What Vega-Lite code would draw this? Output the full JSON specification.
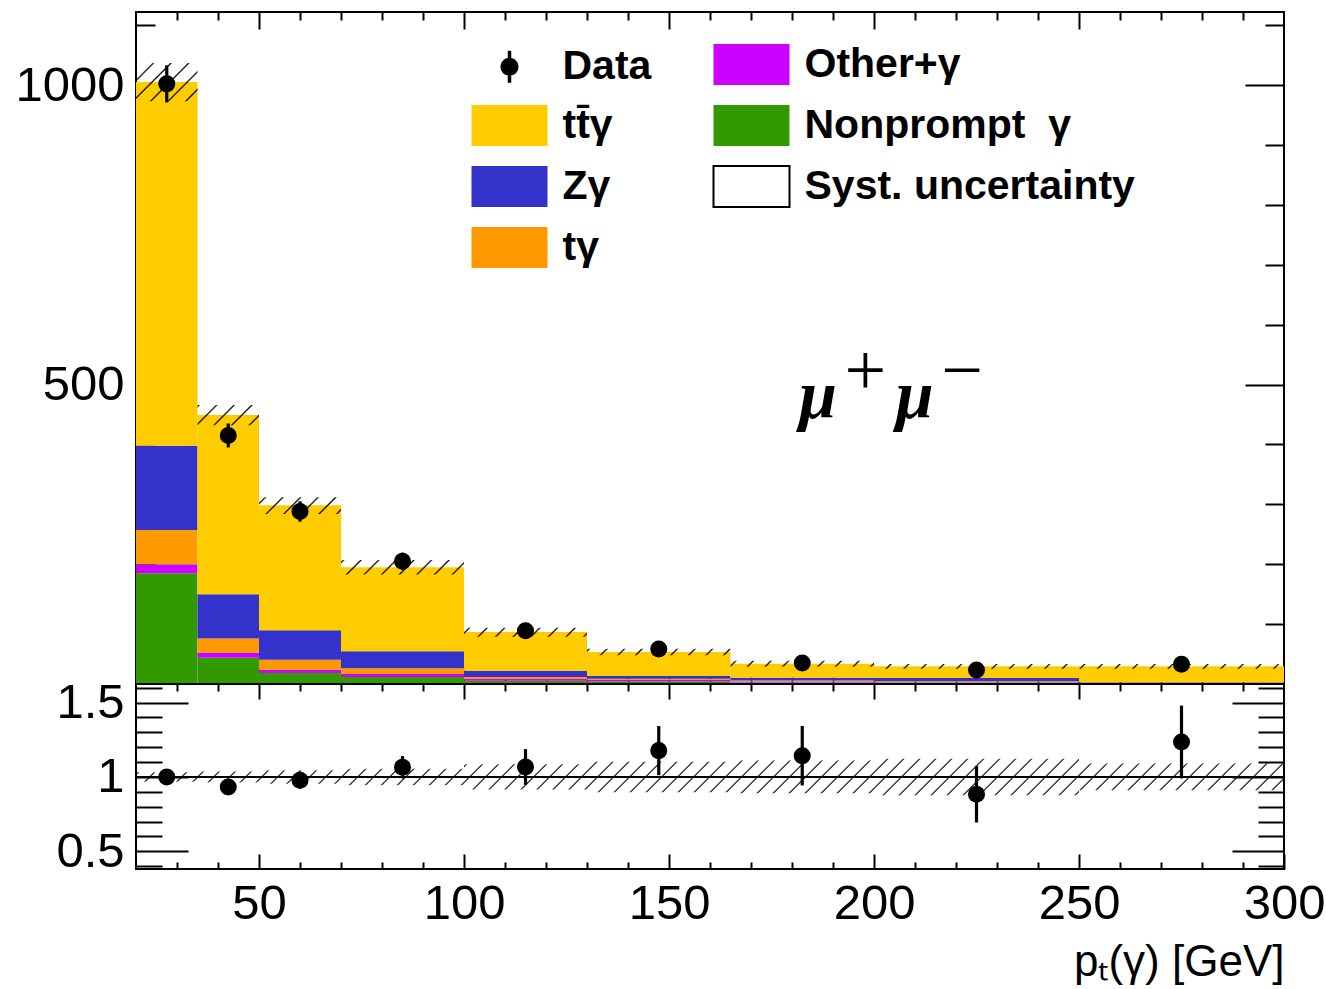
{
"$schema": "https://vega.github.io/schema/vega-lite/v6.json",
"background": "white",
"padding": {"left": 13, "top": 10, "right": 8, "bottom": 0},
"spacing": 0,
"bounds": "flush",
"config": {
  "view": {"stroke": "black", "strokeWidth": 2, "fill": null},
  "font": "Liberation Sans",
  "axis": {"domain": false, "grid": false, "tickColor": "black", "tickWidth": 2, "labelFont": "Liberation Sans", "labelFontSize": 49, "labelColor": "black", "titleFont": "Liberation Sans", "titleColor": "black", "labelFlush": false, "labelOverlap": false, "labelBound": false},
  "legend": {"orient": "none", "legendX": 352, "legendY": 31, "columns": 2, "columnPadding": 57, "rowPadding": 12, "padding": 0,
    "symbolSize": 1681, "symbolStrokeWidth": 2, "symbolOpacity": 1, "labelOffset": 31.5, "labelFont": "Liberation Sans", "labelFontWeight": "bold", "labelFontSize": 41, "labelColor": "black", "labelLimit": 0}
},
"datasets": {
  "stack": [
    {"lo":20,"hi":35,"nonprompt":185,"other":15,"tgamma":57,"zgamma":141,"ttgamma":607},
    {"lo":35,"hi":50,"nonprompt":44,"other":8,"tgamma":24,"zgamma":74,"ttgamma":299},
    {"lo":50,"hi":70,"nonprompt":18.4,"other":5.5,"tgamma":16.7,"zgamma":49,"ttgamma":208.8},
    {"lo":70,"hi":100,"nonprompt":11.7,"other":5,"tgamma":9.5,"zgamma":28.4,"ttgamma":140.3},
    {"lo":100,"hi":130,"nonprompt":5.5,"other":2.7,"tgamma":3.4,"zgamma":10.5,"ttgamma":64.7},
    {"lo":130,"hi":165,"nonprompt":4.5,"other":2.2,"tgamma":2.2,"zgamma":4.5,"ttgamma":40},
    {"lo":165,"hi":200,"nonprompt":2.5,"other":1.5,"tgamma":2,"zgamma":4.6,"ttgamma":23.4},
    {"lo":200,"hi":250,"nonprompt":2,"other":1,"tgamma":1.5,"zgamma":5.5,"ttgamma":19.5},
    {"lo":250,"hi":300,"nonprompt":0.8,"other":0.5,"tgamma":0.7,"zgamma":0.8,"ttgamma":26.7}
  ],
  "band": [
    {"x":20,"dn":973,"up":1037},{"x":35,"dn":432,"up":466},{"x":50,"dn":284,"up":312},{"x":70,"dn":183,"up":207},{"x":100,"dn":79,"up":94},{"x":130,"dn":48,"up":59},{"x":165,"dn":29,"up":39},{"x":200,"dn":25.5,"up":33.5},{"x":250,"dn":25.5,"up":33.5},{"x":300,"dn":25.5,"up":33.5}
  ],
  "rband": [
    {"x":20,"dn":0.968,"up":1.032},{"x":35,"dn":0.963,"up":1.037},{"x":50,"dn":0.955,"up":1.045},{"x":70,"dn":0.945,"up":1.055},{"x":100,"dn":0.915,"up":1.085},{"x":130,"dn":0.897,"up":1.103},{"x":165,"dn":0.89,"up":1.11},{"x":200,"dn":0.877,"up":1.123},{"x":250,"dn":0.91,"up":1.09},{"x":300,"dn":0.91,"up":1.09}
  ],
  "pts": [
    {"x":27.5,"n":1002,"ne":31,"r":1.0,"re":0.031},
    {"x":42.5,"n":415,"ne":20,"r":0.933,"re":0.045},
    {"x":60,"n":288,"ne":17,"r":0.978,"re":0.057},
    {"x":85,"n":205,"ne":14.3,"r":1.065,"re":0.075},
    {"x":115,"n":89,"ne":9.4,"r":1.067,"re":0.12},
    {"x":147.5,"n":58.5,"ne":7.6,"r":1.177,"re":0.165},
    {"x":182.5,"n":35,"ne":5.9,"r":1.143,"re":0.2},
    {"x":225,"n":23.4,"ne":4.8,"r":0.884,"re":0.19},
    {"x":275,"n":32.9,"ne":5.7,"r":1.235,"re":0.245}
  ]
},
"vconcat": [
{
  "width": 1148, "height": 672,
  "resolve": {"axis": {"x": "independent", "y": "independent"}},
  "layer": [
    {
      "data": {"name": "stack"},
      "transform": [
        {"fold": ["nonprompt","other","tgamma","zgamma","ttgamma"], "as": ["comp","val"]},
        {"stack": "val", "groupby": ["lo"], "as": ["y0","y1"]}
      ],
      "mark": {"type": "rect"},
      "encoding": {
        "x": {"field": "lo", "type": "quantitative", "scale": {"domain": [20,300], "nice": false, "zero": false},
              "axis": {"orient": "bottom", "title": null, "labels": false, "values": [50,100,150,200,250], "tickSize": -17}},
        "x2": {"field": "hi"},
        "y": {"field": "y0", "type": "quantitative", "scale": {"domain": [0,1122], "nice": false, "zero": false},
              "axis": {"orient": "left", "title": null, "values": [500,1000], "tickSize": -39, "format": "d", "labelPadding": 51}},
        "y2": {"field": "y1"},
        "color": {"field": "comp", "type": "nominal",
          "scale": {"domain": ["data","ttgamma","zgamma","tgamma","other","nonprompt","syst"], "range": ["#000000","#ffcc00","#3333cc","#ff9900","#cc00ff","#339900","#ffffff"]},
          "legend": {"title": null, "labelExpr": "datum.value === 'data' ? 'Data' : datum.value === 'other' ? 'Other+γ' : datum.value === 'ttgamma' ? 'tt̄γ' : datum.value === 'nonprompt' ? 'Nonprompt\u00a0\u00a0γ' : datum.value === 'zgamma' ? 'Zγ' : datum.value === 'syst' ? 'Syst. uncertainty' : 'tγ'"}
        }
      }
    },
    {
      "data": {"name": "stack"},
      "transform": [
        {"fold": ["nonprompt","other","tgamma","zgamma","ttgamma"], "as": ["comp","val"]}
      ],
      "mark": {"type": "point", "filled": true, "opacity": 0},
      "encoding": {
        "color": {"field": "comp", "type": "nominal",
          "scale": {"domain": ["data","ttgamma","zgamma","tgamma","other","nonprompt","syst"], "range": ["#000000","#ffcc00","#3333cc","#ff9900","#cc00ff","#339900","#ffffff"]},
          "legend": {"title": null, "labelExpr": "datum.value === 'data' ? 'Data' : datum.value === 'other' ? 'Other+γ' : datum.value === 'ttgamma' ? 'tt̄γ' : datum.value === 'nonprompt' ? 'Nonprompt\u00a0\u00a0γ' : datum.value === 'zgamma' ? 'Zγ' : datum.value === 'syst' ? 'Syst. uncertainty' : 'tγ'"}},
        "shape": {"field": "comp", "type": "nominal",
          "scale": {"domain": ["data","ttgamma","zgamma","tgamma","other","nonprompt","syst"], "range": ["M-0.085,-0.78H0.085V0.78H-0.085Z M0.44,0A0.44,0.44 0 1,1 -0.44,0A0.44,0.44 0 1,1 0.44,0Z","M-1.854,-1H1.854V1H-1.854Z","M-1.854,-1H1.854V1H-1.854Z","M-1.854,-1H1.854V1H-1.854Z","M-1.854,-1H1.854V1H-1.854Z","M-1.854,-1H1.854V1H-1.854Z","M-1.854,-1H1.854V1H-1.854Z"]},
          "legend": {"title": null, "labelExpr": "datum.value === 'data' ? 'Data' : datum.value === 'other' ? 'Other+γ' : datum.value === 'ttgamma' ? 'tt̄γ' : datum.value === 'nonprompt' ? 'Nonprompt\u00a0\u00a0γ' : datum.value === 'zgamma' ? 'Zγ' : datum.value === 'syst' ? 'Syst. uncertainty' : 'tγ'"}},
        "stroke": {"field": "comp", "type": "nominal",
          "scale": {"domain": ["data","ttgamma","zgamma","tgamma","other","nonprompt","syst"], "range": ["transparent","transparent","transparent","transparent","transparent","transparent","#000000"]},
          "legend": {"title": null, "labelExpr": "datum.value === 'data' ? 'Data' : datum.value === 'other' ? 'Other+γ' : datum.value === 'ttgamma' ? 'tt̄γ' : datum.value === 'nonprompt' ? 'Nonprompt\u00a0\u00a0γ' : datum.value === 'zgamma' ? 'Zγ' : datum.value === 'syst' ? 'Syst. uncertainty' : 'tγ'"}}
      }
    },
    {
      "data": {"name": "band"},
      "mark": {"type": "area", "interpolate": "step-after", "fill": {"gradient": "linear", "x1": 0, "y1": 0, "x2": 1.2, "y2": 0.633, "stops": [
{"offset":0.009,"color":"transparent"},{"offset":0.01,"color":"black"},{"offset":0.011,"color":"transparent"},
{"offset":0.019,"color":"transparent"},{"offset":0.02,"color":"black"},{"offset":0.021,"color":"transparent"},
{"offset":0.029,"color":"transparent"},{"offset":0.03,"color":"black"},{"offset":0.031,"color":"transparent"},
{"offset":0.039,"color":"transparent"},{"offset":0.04,"color":"black"},{"offset":0.041,"color":"transparent"},
{"offset":0.049,"color":"transparent"},{"offset":0.05,"color":"black"},{"offset":0.051,"color":"transparent"},
{"offset":0.059,"color":"transparent"},{"offset":0.06,"color":"black"},{"offset":0.061,"color":"transparent"},
{"offset":0.069,"color":"transparent"},{"offset":0.07,"color":"black"},{"offset":0.071,"color":"transparent"},
{"offset":0.079,"color":"transparent"},{"offset":0.08,"color":"black"},{"offset":0.081,"color":"transparent"},
{"offset":0.089,"color":"transparent"},{"offset":0.09,"color":"black"},{"offset":0.091,"color":"transparent"},
{"offset":0.099,"color":"transparent"},{"offset":0.10,"color":"black"},{"offset":0.101,"color":"transparent"},
{"offset":0.109,"color":"transparent"},{"offset":0.11,"color":"black"},{"offset":0.111,"color":"transparent"},
{"offset":0.119,"color":"transparent"},{"offset":0.12,"color":"black"},{"offset":0.121,"color":"transparent"},
{"offset":0.129,"color":"transparent"},{"offset":0.13,"color":"black"},{"offset":0.131,"color":"transparent"},
{"offset":0.139,"color":"transparent"},{"offset":0.14,"color":"black"},{"offset":0.141,"color":"transparent"},
{"offset":0.149,"color":"transparent"},{"offset":0.15,"color":"black"},{"offset":0.151,"color":"transparent"},
{"offset":0.159,"color":"transparent"},{"offset":0.16,"color":"black"},{"offset":0.161,"color":"transparent"},
{"offset":0.169,"color":"transparent"},{"offset":0.17,"color":"black"},{"offset":0.171,"color":"transparent"},
{"offset":0.179,"color":"transparent"},{"offset":0.18,"color":"black"},{"offset":0.181,"color":"transparent"},
{"offset":0.189,"color":"transparent"},{"offset":0.19,"color":"black"},{"offset":0.191,"color":"transparent"},
{"offset":0.199,"color":"transparent"},{"offset":0.20,"color":"black"},{"offset":0.201,"color":"transparent"},
{"offset":0.209,"color":"transparent"},{"offset":0.21,"color":"black"},{"offset":0.211,"color":"transparent"},
{"offset":0.219,"color":"transparent"},{"offset":0.22,"color":"black"},{"offset":0.221,"color":"transparent"},
{"offset":0.229,"color":"transparent"},{"offset":0.23,"color":"black"},{"offset":0.231,"color":"transparent"},
{"offset":0.239,"color":"transparent"},{"offset":0.24,"color":"black"},{"offset":0.241,"color":"transparent"},
{"offset":0.249,"color":"transparent"},{"offset":0.25,"color":"black"},{"offset":0.251,"color":"transparent"},
{"offset":0.259,"color":"transparent"},{"offset":0.26,"color":"black"},{"offset":0.261,"color":"transparent"},
{"offset":0.269,"color":"transparent"},{"offset":0.27,"color":"black"},{"offset":0.271,"color":"transparent"},
{"offset":0.279,"color":"transparent"},{"offset":0.28,"color":"black"},{"offset":0.281,"color":"transparent"},
{"offset":0.289,"color":"transparent"},{"offset":0.29,"color":"black"},{"offset":0.291,"color":"transparent"},
{"offset":0.299,"color":"transparent"},{"offset":0.30,"color":"black"},{"offset":0.301,"color":"transparent"},
{"offset":0.309,"color":"transparent"},{"offset":0.31,"color":"black"},{"offset":0.311,"color":"transparent"},
{"offset":0.319,"color":"transparent"},{"offset":0.32,"color":"black"},{"offset":0.321,"color":"transparent"},
{"offset":0.329,"color":"transparent"},{"offset":0.33,"color":"black"},{"offset":0.331,"color":"transparent"},
{"offset":0.339,"color":"transparent"},{"offset":0.34,"color":"black"},{"offset":0.341,"color":"transparent"},
{"offset":0.349,"color":"transparent"},{"offset":0.35,"color":"black"},{"offset":0.351,"color":"transparent"},
{"offset":0.359,"color":"transparent"},{"offset":0.36,"color":"black"},{"offset":0.361,"color":"transparent"},
{"offset":0.369,"color":"transparent"},{"offset":0.37,"color":"black"},{"offset":0.371,"color":"transparent"},
{"offset":0.379,"color":"transparent"},{"offset":0.38,"color":"black"},{"offset":0.381,"color":"transparent"},
{"offset":0.389,"color":"transparent"},{"offset":0.39,"color":"black"},{"offset":0.391,"color":"transparent"},
{"offset":0.399,"color":"transparent"},{"offset":0.40,"color":"black"},{"offset":0.401,"color":"transparent"},
{"offset":0.409,"color":"transparent"},{"offset":0.41,"color":"black"},{"offset":0.411,"color":"transparent"},
{"offset":0.419,"color":"transparent"},{"offset":0.42,"color":"black"},{"offset":0.421,"color":"transparent"},
{"offset":0.429,"color":"transparent"},{"offset":0.43,"color":"black"},{"offset":0.431,"color":"transparent"},
{"offset":0.439,"color":"transparent"},{"offset":0.44,"color":"black"},{"offset":0.441,"color":"transparent"},
{"offset":0.449,"color":"transparent"},{"offset":0.45,"color":"black"},{"offset":0.451,"color":"transparent"},
{"offset":0.459,"color":"transparent"},{"offset":0.46,"color":"black"},{"offset":0.461,"color":"transparent"},
{"offset":0.469,"color":"transparent"},{"offset":0.47,"color":"black"},{"offset":0.471,"color":"transparent"},
{"offset":0.479,"color":"transparent"},{"offset":0.48,"color":"black"},{"offset":0.481,"color":"transparent"},
{"offset":0.489,"color":"transparent"},{"offset":0.49,"color":"black"},{"offset":0.491,"color":"transparent"},
{"offset":0.499,"color":"transparent"},{"offset":0.50,"color":"black"},{"offset":0.501,"color":"transparent"},
{"offset":0.509,"color":"transparent"},{"offset":0.51,"color":"black"},{"offset":0.511,"color":"transparent"},
{"offset":0.519,"color":"transparent"},{"offset":0.52,"color":"black"},{"offset":0.521,"color":"transparent"},
{"offset":0.529,"color":"transparent"},{"offset":0.53,"color":"black"},{"offset":0.531,"color":"transparent"},
{"offset":0.539,"color":"transparent"},{"offset":0.54,"color":"black"},{"offset":0.541,"color":"transparent"},
{"offset":0.549,"color":"transparent"},{"offset":0.55,"color":"black"},{"offset":0.551,"color":"transparent"},
{"offset":0.559,"color":"transparent"},{"offset":0.56,"color":"black"},{"offset":0.561,"color":"transparent"},
{"offset":0.569,"color":"transparent"},{"offset":0.57,"color":"black"},{"offset":0.571,"color":"transparent"},
{"offset":0.579,"color":"transparent"},{"offset":0.58,"color":"black"},{"offset":0.581,"color":"transparent"},
{"offset":0.589,"color":"transparent"},{"offset":0.59,"color":"black"},{"offset":0.591,"color":"transparent"},
{"offset":0.599,"color":"transparent"},{"offset":0.60,"color":"black"},{"offset":0.601,"color":"transparent"},
{"offset":0.609,"color":"transparent"},{"offset":0.61,"color":"black"},{"offset":0.611,"color":"transparent"},
{"offset":0.619,"color":"transparent"},{"offset":0.62,"color":"black"},{"offset":0.621,"color":"transparent"},
{"offset":0.629,"color":"transparent"},{"offset":0.63,"color":"black"},{"offset":0.631,"color":"transparent"},
{"offset":0.639,"color":"transparent"},{"offset":0.64,"color":"black"},{"offset":0.641,"color":"transparent"},
{"offset":0.649,"color":"transparent"},{"offset":0.65,"color":"black"},{"offset":0.651,"color":"transparent"},
{"offset":0.659,"color":"transparent"},{"offset":0.66,"color":"black"},{"offset":0.661,"color":"transparent"},
{"offset":0.669,"color":"transparent"},{"offset":0.67,"color":"black"},{"offset":0.671,"color":"transparent"},
{"offset":0.679,"color":"transparent"},{"offset":0.68,"color":"black"},{"offset":0.681,"color":"transparent"},
{"offset":0.689,"color":"transparent"},{"offset":0.69,"color":"black"},{"offset":0.691,"color":"transparent"},
{"offset":0.699,"color":"transparent"},{"offset":0.70,"color":"black"},{"offset":0.701,"color":"transparent"},
{"offset":0.709,"color":"transparent"},{"offset":0.71,"color":"black"},{"offset":0.711,"color":"transparent"},
{"offset":0.719,"color":"transparent"},{"offset":0.72,"color":"black"},{"offset":0.721,"color":"transparent"},
{"offset":0.729,"color":"transparent"},{"offset":0.73,"color":"black"},{"offset":0.731,"color":"transparent"},
{"offset":0.739,"color":"transparent"},{"offset":0.74,"color":"black"},{"offset":0.741,"color":"transparent"},
{"offset":0.749,"color":"transparent"},{"offset":0.75,"color":"black"},{"offset":0.751,"color":"transparent"},
{"offset":0.759,"color":"transparent"},{"offset":0.76,"color":"black"},{"offset":0.761,"color":"transparent"},
{"offset":0.769,"color":"transparent"},{"offset":0.77,"color":"black"},{"offset":0.771,"color":"transparent"},
{"offset":0.779,"color":"transparent"},{"offset":0.78,"color":"black"},{"offset":0.781,"color":"transparent"},
{"offset":0.789,"color":"transparent"},{"offset":0.79,"color":"black"},{"offset":0.791,"color":"transparent"},
{"offset":0.799,"color":"transparent"},{"offset":0.80,"color":"black"},{"offset":0.801,"color":"transparent"},
{"offset":0.809,"color":"transparent"},{"offset":0.81,"color":"black"},{"offset":0.811,"color":"transparent"},
{"offset":0.819,"color":"transparent"},{"offset":0.82,"color":"black"},{"offset":0.821,"color":"transparent"},
{"offset":0.829,"color":"transparent"},{"offset":0.83,"color":"black"},{"offset":0.831,"color":"transparent"},
{"offset":0.839,"color":"transparent"},{"offset":0.84,"color":"black"},{"offset":0.841,"color":"transparent"},
{"offset":0.849,"color":"transparent"},{"offset":0.85,"color":"black"},{"offset":0.851,"color":"transparent"},
{"offset":0.859,"color":"transparent"},{"offset":0.86,"color":"black"},{"offset":0.861,"color":"transparent"},
{"offset":0.869,"color":"transparent"},{"offset":0.87,"color":"black"},{"offset":0.871,"color":"transparent"},
{"offset":0.879,"color":"transparent"},{"offset":0.88,"color":"black"},{"offset":0.881,"color":"transparent"},
{"offset":0.889,"color":"transparent"},{"offset":0.89,"color":"black"},{"offset":0.891,"color":"transparent"},
{"offset":0.899,"color":"transparent"},{"offset":0.90,"color":"black"},{"offset":0.901,"color":"transparent"},
{"offset":0.909,"color":"transparent"},{"offset":0.91,"color":"black"},{"offset":0.911,"color":"transparent"},
{"offset":0.919,"color":"transparent"},{"offset":0.92,"color":"black"},{"offset":0.921,"color":"transparent"},
{"offset":0.929,"color":"transparent"},{"offset":0.93,"color":"black"},{"offset":0.931,"color":"transparent"},
{"offset":0.939,"color":"transparent"},{"offset":0.94,"color":"black"},{"offset":0.941,"color":"transparent"},
{"offset":0.949,"color":"transparent"},{"offset":0.95,"color":"black"},{"offset":0.951,"color":"transparent"},
{"offset":0.959,"color":"transparent"},{"offset":0.96,"color":"black"},{"offset":0.961,"color":"transparent"},
{"offset":0.969,"color":"transparent"},{"offset":0.97,"color":"black"},{"offset":0.971,"color":"transparent"},
{"offset":0.979,"color":"transparent"},{"offset":0.98,"color":"black"},{"offset":0.981,"color":"transparent"},
{"offset":0.989,"color":"transparent"},{"offset":0.99,"color":"black"},{"offset":0.991,"color":"transparent"}
      ]}},
      "encoding": {
        "x": {"field": "x", "type": "quantitative", "scale": {"domain": [20,300], "nice": false, "zero": false},
              "axis": {"orient": "top", "title": null, "labels": false, "values": [50,100,150,200,250], "tickSize": -17}},
        "y": {"field": "dn", "type": "quantitative", "scale": {"domain": [0,1122], "nice": false, "zero": false},
              "axis": {"orient": "right", "title": null, "labels": false, "values": [500,1000], "tickSize": -39}},
        "y2": {"field": "up"}
      }
    },
    {
      "data": {"name": "pts"},
      "mark": {"type": "errorbar", "thickness": 3.2, "color": "black"},
      "encoding": {
        "x": {"field": "x", "type": "quantitative", "scale": {"domain": [20,300], "nice": false, "zero": false}, "axis": null},
        "y": {"field": "n", "type": "quantitative", "scale": {"domain": [0,1122], "nice": false, "zero": false}, "axis": null},
        "yError": {"field": "ne"}
      }
    },
    {
      "data": {"name": "pts"},
      "mark": {"type": "circle", "size": 290, "color": "black", "opacity": 1},
      "encoding": {
        "x": {"field": "x", "type": "quantitative", "scale": {"domain": [20,300], "nice": false, "zero": false},
              "axis": {"orient": "bottom", "title": null, "labels": false, "values": [30,40,60,70,80,90,110,120,130,140,160,170,180,190,210,220,230,240,260,270,280,290], "tickSize": -8}},
        "y": {"field": "n", "type": "quantitative", "scale": {"domain": [0,1122], "nice": false, "zero": false},
              "axis": {"orient": "left", "title": null, "labels": false, "values": [100,200,300,400,600,700,800,900,1100], "tickSize": -19}}
      }
    },
    {
      "data": {"values": [{}]},
      "mark": {"type": "text", "text": "μ", "font": "Liberation Serif", "fontSize": 68, "fontWeight": "bold", "fontStyle": "italic", "align": "center", "baseline": "alphabetic", "color": "black"},
      "encoding": {
        "x": {"datum": 186.3, "type": "quantitative", "scale": {"domain": [20,300], "nice": false, "zero": false},
              "axis": {"orient": "top", "title": null, "labels": false, "values": [30,40,60,70,80,90,110,120,130,140,160,170,180,190,210,220,230,240,260,270,280,290], "tickSize": -8}},
        "y": {"datum": 444, "type": "quantitative", "scale": {"domain": [0,1122], "nice": false, "zero": false},
              "axis": {"orient": "right", "title": null, "labels": false, "values": [100,200,300,400,600,700,800,900,1100], "tickSize": -19}}
      }
    },
    {
      "data": {"values": [{}]},
      "mark": {"type": "text", "text": "μ", "font": "Liberation Serif", "fontSize": 68, "fontWeight": "bold", "fontStyle": "italic", "align": "center", "baseline": "alphabetic", "color": "black"},
      "encoding": {
        "x": {"datum": 209.9, "type": "quantitative", "scale": {"domain": [20,300], "nice": false, "zero": false}, "axis": null},
        "y": {"datum": 444, "type": "quantitative", "scale": {"domain": [0,1122], "nice": false, "zero": false}, "axis": null}
      }
    },
    {
      "data": {"values": [{}]},
      "mark": {"type": "text", "text": "+", "font": "Liberation Serif", "fontSize": 74, "align": "center", "baseline": "alphabetic", "color": "black"},
      "encoding": {
        "x": {"datum": 197.9, "type": "quantitative", "scale": {"domain": [20,300], "nice": false, "zero": false}, "axis": null},
        "y": {"datum": 483, "type": "quantitative", "scale": {"domain": [0,1122], "nice": false, "zero": false}, "axis": null}
      }
    },
    {
      "data": {"values": [{}]},
      "mark": {"type": "text", "text": "−", "font": "Liberation Serif", "fontSize": 74, "align": "center", "baseline": "alphabetic", "color": "black"},
      "encoding": {
        "x": {"datum": 221.5, "type": "quantitative", "scale": {"domain": [20,300], "nice": false, "zero": false}, "axis": null},
        "y": {"datum": 483, "type": "quantitative", "scale": {"domain": [0,1122], "nice": false, "zero": false}, "axis": null}
      }
    }
  ]
},
{
  "width": 1148, "height": 185,
  "resolve": {"axis": {"x": "independent", "y": "independent"}},
  "layer": [
    {
      "data": {"name": "rband"},
      "mark": {"type": "area", "interpolate": "step-after", "fill": {"gradient": "linear", "x1": 0, "y1": 0, "x2": 1.392, "y2": 0.0444, "stops": [
{"offset":0.009,"color":"transparent"},{"offset":0.01,"color":"black"},{"offset":0.011,"color":"transparent"},
{"offset":0.019,"color":"transparent"},{"offset":0.02,"color":"black"},{"offset":0.021,"color":"transparent"},
{"offset":0.029,"color":"transparent"},{"offset":0.03,"color":"black"},{"offset":0.031,"color":"transparent"},
{"offset":0.039,"color":"transparent"},{"offset":0.04,"color":"black"},{"offset":0.041,"color":"transparent"},
{"offset":0.049,"color":"transparent"},{"offset":0.05,"color":"black"},{"offset":0.051,"color":"transparent"},
{"offset":0.059,"color":"transparent"},{"offset":0.06,"color":"black"},{"offset":0.061,"color":"transparent"},
{"offset":0.069,"color":"transparent"},{"offset":0.07,"color":"black"},{"offset":0.071,"color":"transparent"},
{"offset":0.079,"color":"transparent"},{"offset":0.08,"color":"black"},{"offset":0.081,"color":"transparent"},
{"offset":0.089,"color":"transparent"},{"offset":0.09,"color":"black"},{"offset":0.091,"color":"transparent"},
{"offset":0.099,"color":"transparent"},{"offset":0.10,"color":"black"},{"offset":0.101,"color":"transparent"},
{"offset":0.109,"color":"transparent"},{"offset":0.11,"color":"black"},{"offset":0.111,"color":"transparent"},
{"offset":0.119,"color":"transparent"},{"offset":0.12,"color":"black"},{"offset":0.121,"color":"transparent"},
{"offset":0.129,"color":"transparent"},{"offset":0.13,"color":"black"},{"offset":0.131,"color":"transparent"},
{"offset":0.139,"color":"transparent"},{"offset":0.14,"color":"black"},{"offset":0.141,"color":"transparent"},
{"offset":0.149,"color":"transparent"},{"offset":0.15,"color":"black"},{"offset":0.151,"color":"transparent"},
{"offset":0.159,"color":"transparent"},{"offset":0.16,"color":"black"},{"offset":0.161,"color":"transparent"},
{"offset":0.169,"color":"transparent"},{"offset":0.17,"color":"black"},{"offset":0.171,"color":"transparent"},
{"offset":0.179,"color":"transparent"},{"offset":0.18,"color":"black"},{"offset":0.181,"color":"transparent"},
{"offset":0.189,"color":"transparent"},{"offset":0.19,"color":"black"},{"offset":0.191,"color":"transparent"},
{"offset":0.199,"color":"transparent"},{"offset":0.20,"color":"black"},{"offset":0.201,"color":"transparent"},
{"offset":0.209,"color":"transparent"},{"offset":0.21,"color":"black"},{"offset":0.211,"color":"transparent"},
{"offset":0.219,"color":"transparent"},{"offset":0.22,"color":"black"},{"offset":0.221,"color":"transparent"},
{"offset":0.229,"color":"transparent"},{"offset":0.23,"color":"black"},{"offset":0.231,"color":"transparent"},
{"offset":0.239,"color":"transparent"},{"offset":0.24,"color":"black"},{"offset":0.241,"color":"transparent"},
{"offset":0.249,"color":"transparent"},{"offset":0.25,"color":"black"},{"offset":0.251,"color":"transparent"},
{"offset":0.259,"color":"transparent"},{"offset":0.26,"color":"black"},{"offset":0.261,"color":"transparent"},
{"offset":0.269,"color":"transparent"},{"offset":0.27,"color":"black"},{"offset":0.271,"color":"transparent"},
{"offset":0.279,"color":"transparent"},{"offset":0.28,"color":"black"},{"offset":0.281,"color":"transparent"},
{"offset":0.289,"color":"transparent"},{"offset":0.29,"color":"black"},{"offset":0.291,"color":"transparent"},
{"offset":0.299,"color":"transparent"},{"offset":0.30,"color":"black"},{"offset":0.301,"color":"transparent"},
{"offset":0.309,"color":"transparent"},{"offset":0.31,"color":"black"},{"offset":0.311,"color":"transparent"},
{"offset":0.319,"color":"transparent"},{"offset":0.32,"color":"black"},{"offset":0.321,"color":"transparent"},
{"offset":0.329,"color":"transparent"},{"offset":0.33,"color":"black"},{"offset":0.331,"color":"transparent"},
{"offset":0.339,"color":"transparent"},{"offset":0.34,"color":"black"},{"offset":0.341,"color":"transparent"},
{"offset":0.349,"color":"transparent"},{"offset":0.35,"color":"black"},{"offset":0.351,"color":"transparent"},
{"offset":0.359,"color":"transparent"},{"offset":0.36,"color":"black"},{"offset":0.361,"color":"transparent"},
{"offset":0.369,"color":"transparent"},{"offset":0.37,"color":"black"},{"offset":0.371,"color":"transparent"},
{"offset":0.379,"color":"transparent"},{"offset":0.38,"color":"black"},{"offset":0.381,"color":"transparent"},
{"offset":0.389,"color":"transparent"},{"offset":0.39,"color":"black"},{"offset":0.391,"color":"transparent"},
{"offset":0.399,"color":"transparent"},{"offset":0.40,"color":"black"},{"offset":0.401,"color":"transparent"},
{"offset":0.409,"color":"transparent"},{"offset":0.41,"color":"black"},{"offset":0.411,"color":"transparent"},
{"offset":0.419,"color":"transparent"},{"offset":0.42,"color":"black"},{"offset":0.421,"color":"transparent"},
{"offset":0.429,"color":"transparent"},{"offset":0.43,"color":"black"},{"offset":0.431,"color":"transparent"},
{"offset":0.439,"color":"transparent"},{"offset":0.44,"color":"black"},{"offset":0.441,"color":"transparent"},
{"offset":0.449,"color":"transparent"},{"offset":0.45,"color":"black"},{"offset":0.451,"color":"transparent"},
{"offset":0.459,"color":"transparent"},{"offset":0.46,"color":"black"},{"offset":0.461,"color":"transparent"},
{"offset":0.469,"color":"transparent"},{"offset":0.47,"color":"black"},{"offset":0.471,"color":"transparent"},
{"offset":0.479,"color":"transparent"},{"offset":0.48,"color":"black"},{"offset":0.481,"color":"transparent"},
{"offset":0.489,"color":"transparent"},{"offset":0.49,"color":"black"},{"offset":0.491,"color":"transparent"},
{"offset":0.499,"color":"transparent"},{"offset":0.50,"color":"black"},{"offset":0.501,"color":"transparent"},
{"offset":0.509,"color":"transparent"},{"offset":0.51,"color":"black"},{"offset":0.511,"color":"transparent"},
{"offset":0.519,"color":"transparent"},{"offset":0.52,"color":"black"},{"offset":0.521,"color":"transparent"},
{"offset":0.529,"color":"transparent"},{"offset":0.53,"color":"black"},{"offset":0.531,"color":"transparent"},
{"offset":0.539,"color":"transparent"},{"offset":0.54,"color":"black"},{"offset":0.541,"color":"transparent"},
{"offset":0.549,"color":"transparent"},{"offset":0.55,"color":"black"},{"offset":0.551,"color":"transparent"},
{"offset":0.559,"color":"transparent"},{"offset":0.56,"color":"black"},{"offset":0.561,"color":"transparent"},
{"offset":0.569,"color":"transparent"},{"offset":0.57,"color":"black"},{"offset":0.571,"color":"transparent"},
{"offset":0.579,"color":"transparent"},{"offset":0.58,"color":"black"},{"offset":0.581,"color":"transparent"},
{"offset":0.589,"color":"transparent"},{"offset":0.59,"color":"black"},{"offset":0.591,"color":"transparent"},
{"offset":0.599,"color":"transparent"},{"offset":0.60,"color":"black"},{"offset":0.601,"color":"transparent"},
{"offset":0.609,"color":"transparent"},{"offset":0.61,"color":"black"},{"offset":0.611,"color":"transparent"},
{"offset":0.619,"color":"transparent"},{"offset":0.62,"color":"black"},{"offset":0.621,"color":"transparent"},
{"offset":0.629,"color":"transparent"},{"offset":0.63,"color":"black"},{"offset":0.631,"color":"transparent"},
{"offset":0.639,"color":"transparent"},{"offset":0.64,"color":"black"},{"offset":0.641,"color":"transparent"},
{"offset":0.649,"color":"transparent"},{"offset":0.65,"color":"black"},{"offset":0.651,"color":"transparent"},
{"offset":0.659,"color":"transparent"},{"offset":0.66,"color":"black"},{"offset":0.661,"color":"transparent"},
{"offset":0.669,"color":"transparent"},{"offset":0.67,"color":"black"},{"offset":0.671,"color":"transparent"},
{"offset":0.679,"color":"transparent"},{"offset":0.68,"color":"black"},{"offset":0.681,"color":"transparent"},
{"offset":0.689,"color":"transparent"},{"offset":0.69,"color":"black"},{"offset":0.691,"color":"transparent"},
{"offset":0.699,"color":"transparent"},{"offset":0.70,"color":"black"},{"offset":0.701,"color":"transparent"},
{"offset":0.709,"color":"transparent"},{"offset":0.71,"color":"black"},{"offset":0.711,"color":"transparent"},
{"offset":0.719,"color":"transparent"},{"offset":0.72,"color":"black"},{"offset":0.721,"color":"transparent"},
{"offset":0.729,"color":"transparent"},{"offset":0.73,"color":"black"},{"offset":0.731,"color":"transparent"},
{"offset":0.739,"color":"transparent"},{"offset":0.74,"color":"black"},{"offset":0.741,"color":"transparent"},
{"offset":0.749,"color":"transparent"},{"offset":0.75,"color":"black"},{"offset":0.751,"color":"transparent"}
      ]}},
      "encoding": {
        "x": {"field": "x", "type": "quantitative", "scale": {"domain": [20,300], "nice": false, "zero": false},
              "axis": {"orient": "bottom", "title": "pₜ(γ) [GeV]", "titleFontSize": 44, "titleFontWeight": "normal", "titleAnchor": "end", "titleAlign": "right", "titleBaseline": "alphabetic", "titleY": 106,
                       "values": [50,100,150,200,250,300], "tickSize": -15, "format": "d", "labelPadding": 25}},
        "y": {"field": "dn", "type": "quantitative", "scale": {"domain": [0.381,1.625], "nice": false, "zero": false},
              "axis": {"orient": "left", "title": null, "values": [0.5,1,1.5], "tickSize": -52,
                       "labelExpr": "datum.value === 1 ? '1' : format(datum.value, '.1f')", "labelPadding": 64}},
        "y2": {"field": "up"}
      }
    },
    {
      "data": {"values": [{}]},
      "mark": {"type": "rule", "color": "black", "strokeWidth": 2},
      "encoding": {
        "x": {"datum": 20, "type": "quantitative", "scale": {"domain": [20,300], "nice": false, "zero": false},
              "axis": {"orient": "bottom", "title": null, "labels": false, "values": [30,40,60,70,80,90,110,120,130,140,160,170,180,190,210,220,230,240,260,270,280,290], "tickSize": -7}},
        "x2": {"datum": 300},
        "y": {"datum": 1, "type": "quantitative", "scale": {"domain": [0.381,1.625], "nice": false, "zero": false},
              "axis": {"orient": "left", "title": null, "labels": false, "values": [0.4,0.6,0.7,0.8,0.9,1.1,1.2,1.3,1.4,1.6], "tickSize": -26}}
      }
    },
    {
      "data": {"name": "pts"},
      "mark": {"type": "errorbar", "thickness": 3.2, "color": "black"},
      "encoding": {
        "x": {"field": "x", "type": "quantitative", "scale": {"domain": [20,300], "nice": false, "zero": false},
              "axis": {"orient": "top", "title": null, "labels": false, "values": [30,40,60,70,80,90,110,120,130,140,160,170,180,190,210,220,230,240,260,270,280,290], "tickSize": -7}},
        "y": {"field": "r", "type": "quantitative", "scale": {"domain": [0.381,1.625], "nice": false, "zero": false},
              "axis": {"orient": "right", "title": null, "labels": false, "values": [0.4,0.6,0.7,0.8,0.9,1.1,1.2,1.3,1.4,1.6], "tickSize": -26}},
        "yError": {"field": "re"}
      }
    },
    {
      "data": {"name": "pts"},
      "mark": {"type": "circle", "size": 290, "color": "black", "opacity": 1},
      "encoding": {
        "x": {"field": "x", "type": "quantitative", "scale": {"domain": [20,300], "nice": false, "zero": false},
              "axis": {"orient": "top", "title": null, "labels": false, "values": [50,100,150,200,250], "tickSize": -15}},
        "y": {"field": "r", "type": "quantitative", "scale": {"domain": [0.381,1.625], "nice": false, "zero": false},
              "axis": {"orient": "right", "title": null, "labels": false, "values": [0.5,1,1.5], "tickSize": -52}}
      }
    }
  ]
}
]
}
